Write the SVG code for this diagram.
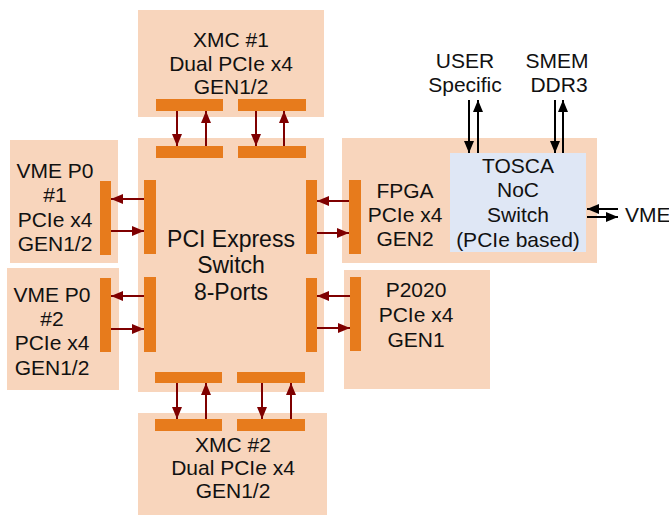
<svg xmlns="http://www.w3.org/2000/svg" width="669" height="517" viewBox="0 0 669 517">
<defs>
<marker id="ar" markerUnits="userSpaceOnUse" markerWidth="12" markerHeight="10" refX="12" refY="5" orient="auto"><path d="M0,0 L12,5 L0,10 z" fill="#7f0000"/></marker>
<marker id="ab" markerUnits="userSpaceOnUse" markerWidth="12" markerHeight="10" refX="12" refY="5" orient="auto"><path d="M0,0 L12,5 L0,10 z" fill="#000"/></marker>
<style>
.box{fill:#f8d5bc}
.bar{fill:#e77b1c}
.t{font-family:"Liberation Sans",Arial,sans-serif;font-size:21px;fill:#111;text-anchor:middle}
.tc{font-size:23px}
.r{stroke:#7f0000;stroke-width:2;fill:none;marker-end:url(#ar)}
.k{stroke:#000;stroke-width:2;fill:none;marker-end:url(#ab)}
</style>
</defs>
<g id="switch">
<rect class="box" x="138" y="138" width="186" height="254"/>
<rect class="bar" x="156" y="146" width="67" height="12"/>
<rect class="bar" x="238" y="146" width="68" height="12"/>
<rect class="bar" x="155" y="372" width="67" height="11"/>
<rect class="bar" x="237" y="372" width="68" height="11"/>
<rect class="bar" x="144" y="180" width="12" height="74"/>
<rect class="bar" x="144" y="277" width="12" height="75"/>
<rect class="bar" x="306" y="180" width="11" height="74"/>
<rect class="bar" x="306" y="278" width="11" height="74"/>
<text class="t tc" x="231" y="247">PCI Express</text>
<text class="t tc" x="231" y="273">Switch</text>
<text class="t tc" x="231" y="300">8-Ports</text>
</g>
<g id="xmc1">
<rect class="box" x="138" y="10" width="186" height="107"/>
<rect class="bar" x="156" y="99" width="67" height="12"/>
<rect class="bar" x="238" y="99" width="68" height="12"/>
<text class="t" x="231" y="47">XMC #1</text>
<text class="t" x="231" y="71">Dual PCIe x4</text>
<text class="t" x="231" y="94">GEN1/2</text>
</g>
<g id="xmc2">
<rect class="box" x="138" y="413" width="189" height="102"/>
<rect class="bar" x="155" y="419" width="67" height="12"/>
<rect class="bar" x="237" y="419" width="68" height="12"/>
<text class="t" x="233" y="452">XMC #2</text>
<text class="t" x="233" y="475">Dual PCIe x4</text>
<text class="t" x="233" y="498">GEN1/2</text>
</g>
<g id="vme1">
<rect class="box" x="10" y="140" width="108" height="123"/>
<rect class="bar" x="100" y="181" width="11" height="74"/>
<text class="t" x="55" y="178">VME P0</text>
<text class="t" x="55" y="202">#1</text>
<text class="t" x="55" y="227">PCIe x4</text>
<text class="t" x="55" y="251">GEN1/2</text>
</g>
<g id="vme2">
<rect class="box" x="7" y="268" width="112" height="122"/>
<rect class="bar" x="100" y="278" width="11" height="74"/>
<text class="t" x="52" y="302">VME P0</text>
<text class="t" x="52" y="326">#2</text>
<text class="t" x="52" y="350">PCIe x4</text>
<text class="t" x="52" y="375">GEN1/2</text>
</g>
<g id="fpga">
<rect class="box" x="342" y="138" width="255" height="125"/>
<rect class="bar" x="349" y="180" width="12" height="74"/>
<text class="t" x="405" y="198">FPGA</text>
<text class="t" x="405" y="222">PCIe x4</text>
<text class="t" x="405" y="246">GEN2</text>
</g>
<g id="tosca">
<rect x="450" y="153" width="136" height="99" fill="#dfe7f5"/>
<text class="t" x="518" y="173">TOSCA</text>
<text class="t" x="518" y="197">NoC</text>
<text class="t" x="518" y="222">Switch</text>
<text class="t" x="518" y="247">(PCIe based)</text>
</g>
<g id="p2020">
<rect class="box" x="344" y="270" width="146" height="119"/>
<rect class="bar" x="350" y="277" width="11" height="74"/>
<text class="t" x="416" y="297">P2020</text>
<text class="t" x="416" y="322">PCIe x4</text>
<text class="t" x="416" y="347">GEN1</text>
</g>
<g id="user">
<text class="t" x="465" y="68">USER</text>
<text class="t" x="465" y="92">Specific</text>
</g>
<g id="smem">
<text class="t" x="557" y="68">SMEM</text>
<text class="t" x="559" y="92">DDR3</text>
</g>
<g id="vme">
<text class="t" x="625" y="222" style="text-anchor:start">VME</text>
</g>
<g id="connectors">
<line class="r" x1="177" y1="111" x2="177" y2="146"/>
<line class="r" x1="206" y1="146" x2="206" y2="111"/>
<line class="r" x1="256" y1="111" x2="256" y2="146"/>
<line class="r" x1="284" y1="146" x2="284" y2="111"/>
<line class="r" x1="177" y1="383" x2="177" y2="419"/>
<line class="r" x1="206" y1="419" x2="206" y2="383"/>
<line class="r" x1="262" y1="383" x2="262" y2="419"/>
<line class="r" x1="291" y1="419" x2="291" y2="383"/>
<line class="r" x1="144" y1="199" x2="111" y2="199"/>
<line class="r" x1="111" y1="231" x2="144" y2="231"/>
<line class="r" x1="144" y1="296" x2="111" y2="296"/>
<line class="r" x1="111" y1="329" x2="144" y2="329"/>
<line class="r" x1="349" y1="201" x2="317" y2="201"/>
<line class="r" x1="317" y1="233" x2="349" y2="233"/>
<line class="r" x1="350" y1="296" x2="317" y2="296"/>
<line class="r" x1="317" y1="328" x2="350" y2="328"/>
<line class="k" x1="469" y1="100" x2="469" y2="153"/>
<line class="k" x1="478" y1="153" x2="478" y2="100"/>
<line class="k" x1="555" y1="100" x2="555" y2="153"/>
<line class="k" x1="563" y1="153" x2="563" y2="100"/>
<line class="k" x1="618" y1="209" x2="587" y2="209"/>
<line class="k" x1="587" y1="217" x2="618" y2="217"/>
</g>
</svg>
